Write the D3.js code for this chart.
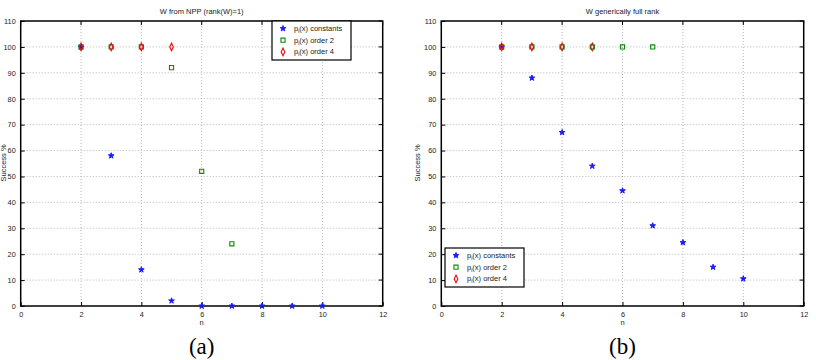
<!DOCTYPE html>
<html>
<head>
<title>Success vs n</title>
<style>
  body { margin: 0; background: #fff; }
  svg text { font-family: "Liberation Sans", Arial, sans-serif; }
</style>
<script src="https://cdn.jsdelivr.net/npm/d3@7"></script>
</head>
<body>
<svg id="chart" width="816" height="360"></svg>
<script>
// panel (a): W from NPP
var nA_const = [2, 3, 4, 5, 6, 7, 8, 9, 10];
var yA_const = [100, 58, 14, 2, 0, 0, 0, 0, 0];
var nA_ord2 = [2, 3, 4, 5, 6, 7];
var yA_ord2 = [100, 100, 100, 92, 52, 24];
var nA_ord4 = [2, 3, 4, 5];
var yA_ord4 = [100, 100, 100, 100];

// panel (b): W generically full rank
var nB_const = [2, 3, 4, 5, 6, 7, 8, 9, 10];
var yB_const = [100, 88, 67, 54, 44.5, 31, 24.5, 15, 10.5];
var nB_ord2 = [2, 3, 4, 5, 6, 7];
var yB_ord2 = [100, 100, 100, 100, 100, 100];
var nB_ord4 = [2, 3, 4, 5];
var yB_ord4 = [100, 100, 100, 100];

var xTicks = [0, 2, 4, 6, 8, 10, 12];
var yTicks = [0, 10, 20, 30, 40, 50, 60, 70, 80, 90, 100, 110];
var seriesNames = ['constants', 'order 2', 'order 4'];

var svg = d3.select('#chart');

var star = d3.symbol().type(d3.symbolStar).size(10);
var square = d3.symbol().type(d3.symbolSquare).size(17);
var diamond = d3.symbol().type(d3.symbolDiamond).size(14);

function drawMarker(g, kind, x, y) {
  if (kind === 0) {
    g.append('path').attr('d', star).attr('transform', 'translate(' + x + ',' + y + ')')
      .attr('fill', '#1a1aff').attr('stroke', '#1a1aff').attr('stroke-width', 1);
  } else if (kind === 1) {
    g.append('path').attr('d', square).attr('transform', 'translate(' + x + ',' + y + ')')
      .attr('fill', 'none').attr('stroke', '#0a8a0a').attr('stroke-width', 1.1);
  } else {
    g.append('path').attr('d', diamond).attr('transform', 'translate(' + x + ',' + y + ') scale(0.9,1.1)')
      .attr('fill', 'none').attr('stroke', '#e01010').attr('stroke-width', 1.2);
  }
}

function panel(opt) {
  var x = d3.scaleLinear().domain([0, 12]).range([opt.x0, opt.x1]);
  var y = d3.scaleLinear().domain([0, 110]).range([306, 21]);
  var g = svg.append('g');

  // grid
  g.selectAll('.vg').data(xTicks.slice(1, -1)).enter().append('line')
    .attr('x1', function(d){ return x(d); }).attr('x2', function(d){ return x(d); })
    .attr('y1', y(0)).attr('y2', y(110))
    .attr('stroke', '#999').attr('stroke-width', 0.7).attr('stroke-dasharray', '1,2');
  g.selectAll('.hg').data(yTicks.slice(1, -1)).enter().append('line')
    .attr('y1', function(d){ return y(d); }).attr('y2', function(d){ return y(d); })
    .attr('x1', x(0)).attr('x2', x(12))
    .attr('stroke', '#999').attr('stroke-width', 0.7).attr('stroke-dasharray', '1,2');

  // axes with inward ticks
  var ax = g.append('g').attr('transform', 'translate(0,' + y(0) + ')')
    .call(d3.axisBottom(x).tickValues(xTicks).tickSizeInner(-4).tickSizeOuter(0).tickPadding(6));
  var ay = g.append('g').attr('transform', 'translate(' + x(0) + ',0)')
    .call(d3.axisLeft(y).tickValues(yTicks).tickSizeInner(-4).tickSizeOuter(0).tickPadding(5));
  [ax, ay].forEach(function(a) {
    a.select('.domain').remove();
    a.selectAll('text').attr('font-size', 7.3).attr('fill', '#222')
      .attr('font-family', '"Liberation Sans", Arial, sans-serif');
    a.selectAll('line').attr('stroke', '#000');
  });
  // top/right ticks
  g.selectAll('.tt').data(xTicks).enter().append('line')
    .attr('x1', function(d){ return x(d); }).attr('x2', function(d){ return x(d); })
    .attr('y1', y(110)).attr('y2', y(110) + 4).attr('stroke', '#000');
  g.selectAll('.rt').data(yTicks).enter().append('line')
    .attr('y1', function(d){ return y(d); }).attr('y2', function(d){ return y(d); })
    .attr('x1', x(12)).attr('x2', x(12) - 4).attr('stroke', '#000');

  // frame
  g.append('rect').attr('x', x(0)).attr('y', y(110))
    .attr('width', x(12) - x(0)).attr('height', y(0) - y(110))
    .attr('fill', 'none').attr('stroke', '#000').attr('stroke-width', 1.5);

  var sets = [[opt.n0, opt.v0], [opt.n1, opt.v1], [opt.n2, opt.v2]];
  sets.forEach(function(s, k) {
    s[0].forEach(function(n, i) { drawMarker(g, k, x(n), y(s[1][i])); });
  });

  // title and labels
  var cx = (x(0) + x(12)) / 2;
  g.append('text').attr('x', cx).attr('y', 14).attr('text-anchor', 'middle')
    .attr('font-size', 7.5).attr('fill', '#222').text(opt.title);
  g.append('text').attr('x', cx).attr('y', 325).attr('text-anchor', 'middle')
    .attr('font-size', 7.5).attr('fill', '#222').text('n');
  g.append('text').attr('transform', 'translate(' + opt.ylabX + ',163) rotate(-90)')
    .attr('text-anchor', 'middle').attr('font-size', 7.5).attr('fill', '#222').text('Success %');
  g.append('text').attr('x', cx).attr('y', 354).attr('text-anchor', 'middle')
    .attr('font-size', 23)
    .style('font-family', '"Liberation Serif", "DejaVu Serif", serif')
    .text(opt.tag);

  // legend
  var lg = g.append('g').attr('transform', 'translate(' + opt.lx + ',' + opt.ly + ')');
  lg.append('rect').attr('width', 79).attr('height', 39)
    .attr('fill', '#fff').attr('stroke', '#000').attr('stroke-width', 1.2);
  seriesNames.forEach(function(name, k) {
    var yy = 7.5 + k * 11.7;
    drawMarker(lg, k, 11, yy);
    var t = lg.append('text').attr('x', 22).attr('y', yy + 2.5).attr('font-size', 7.5).attr('fill', '#222');
    t.append('tspan').text('p');
    t.append('tspan').attr('font-size', 5).attr('dy', 2).text('i');
    t.append('tspan').attr('dy', -2).text('(x) ' + name);
  });
}

panel({ x0: 20.7, x1: 382.7, title: 'W from NPP (rank(W)=1)', tag: '(a)', ylabX: 6, lx: 272, ly: 21,
  n0: nA_const, v0: yA_const, n1: nA_ord2, v1: yA_ord2, n2: nA_ord4, v2: yA_ord4 });
panel({ x0: 441.3, x1: 803.7, title: 'W generically full rank', tag: '(b)', ylabX: 420, lx: 445, ly: 248,
  n0: nB_const, v0: yB_const, n1: nB_ord2, v1: yB_ord2, n2: nB_ord4, v2: yB_ord4 });
</script>
</body>
</html>
